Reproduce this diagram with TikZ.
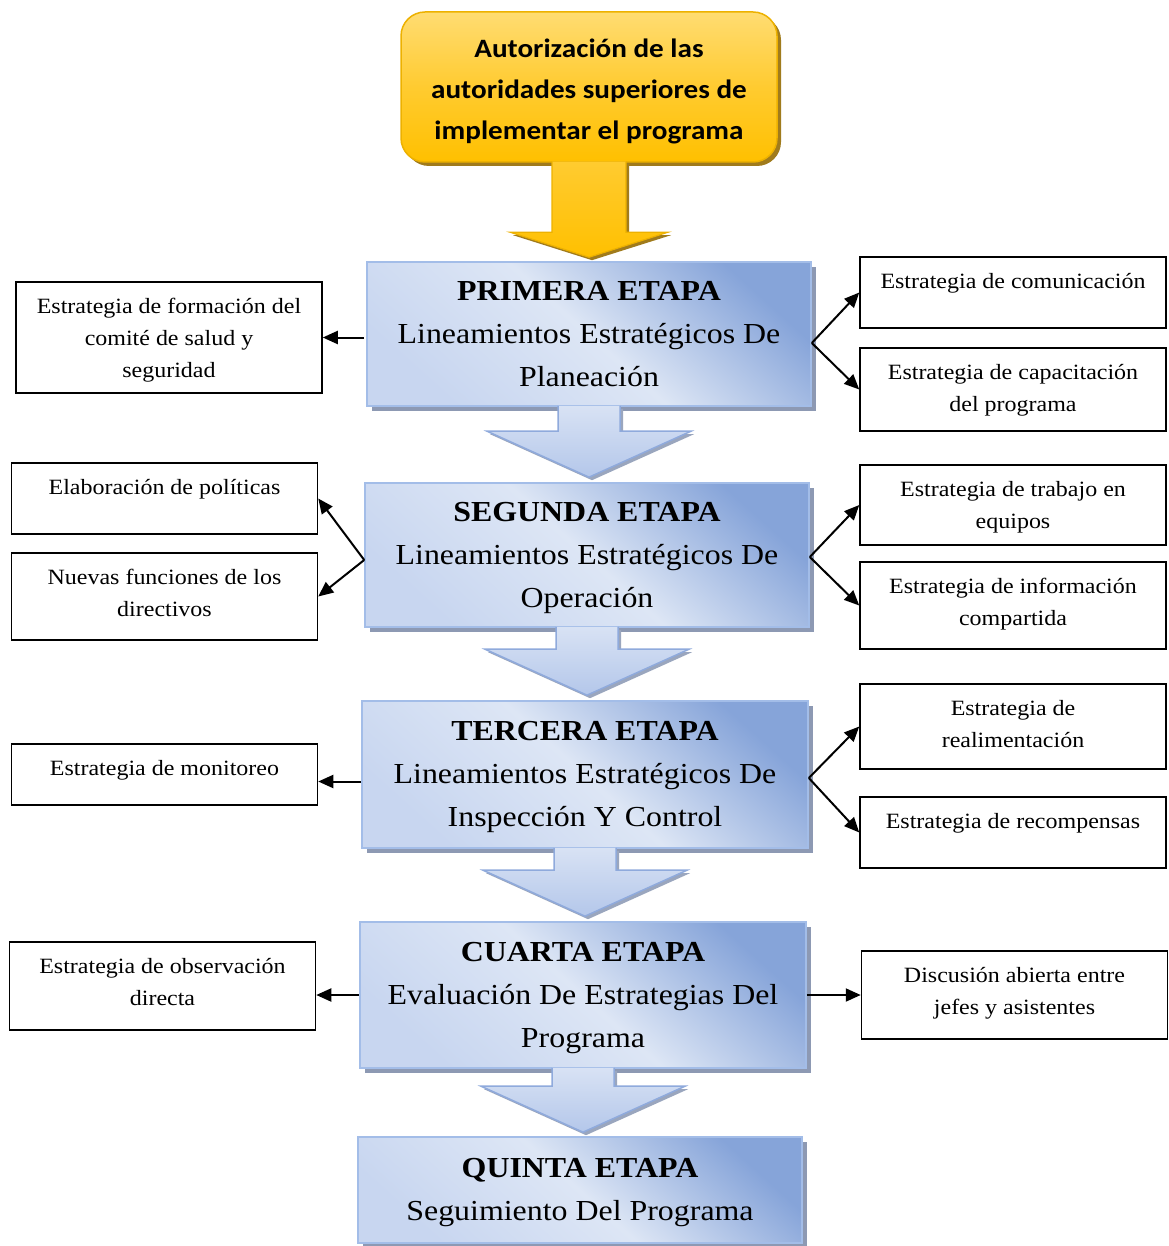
\documentclass[tikz,border=0pt]{standalone}
\usepackage{fontspec}
\setmainfont{Liberation Serif}[FakeStretch=1.1]
\newfontfamily\calibfont{Carlito}[FakeStretch=1.1]
\usetikzlibrary{arrows.meta,calc,shadows}

% palette
\definecolor{stageDark}{HTML}{86A4D9}
\definecolor{stageLight}{HTML}{DDE6F5}
\definecolor{stageMid}{HTML}{C8D6F0}
\definecolor{stageEdge}{HTML}{A3BDE8}
\definecolor{stageShadow}{HTML}{8D99B3}
\definecolor{arrowTop}{HTML}{D8E2F4}
\definecolor{arrowBottom}{HTML}{B4C7EA}
\definecolor{arrowEdge}{HTML}{8FAADC}
\definecolor{arrowShadow}{HTML}{9AA6BE}
\definecolor{topLight}{HTML}{FFDC72}
\definecolor{topMid}{HTML}{FFCB30}
\definecolor{topDeep}{HTML}{FFC000}
\definecolor{topEdge}{HTML}{EDB100}
\definecolor{topShadow}{HTML}{A07B1C}

% side box text: fixed box height, text hanging from the top
\newcommand\sidetext[2]{\parbox[t][#1][t]{300pt}{\centering\fontsize{21.8}{32}\selectfont\rule{0pt}{31pt}#2}}
% stage text: bold title, then the stage name
\newcommand\stagetext[2]{\rule{0pt}{25pt}\textbf{#1}\\#2\rule[-7pt]{0pt}{7pt}}

% block arrow between the bottom of one node and the top of the next
\newcommand\arrowshape[8]{%
  \path[#7] let \p1=(#1.south), \p2=(#2.north) in
    (\x1-#3,\y1+1pt) -- (\x1-#3,\y2+#6+#5) -- (\x1-#4,\y2+#6+#5) -- (\x1,\y2+#6)
    -- (\x1+#4,\y2+#6+#5) -- (\x1+#3,\y2+#6+#5) -- (\x1+#3,\y1+1pt) #8;}
\newcommand\flowarrow[7]{%
  \arrowshape{#1}{#2}{#3}{#4}{#5}{#6}{#7shadow, transform canvas={shift={(3pt,-3pt)}}}{-- cycle}
  \arrowshape{#1}{#2}{#3}{#4}{#5}{#6}{#7body}{-- cycle}
  \arrowshape{#1}{#2}{#3}{#4}{#5}{#6}{#7edge}{}}

\tikzset{
  topbox/.style={draw=topEdge, line width=1.5pt, rounded corners=24pt,
    top color=topLight, bottom color=topDeep, middle color=topMid,
    general shadow={fill=topShadow, shadow xshift=4pt, shadow yshift=-4pt},
    align=center, inner sep=0pt,
    font=\calibfont\bfseries\fontsize{26.5}{41}\selectfont},
  stagebox/.style={draw=stageEdge, line width=1.6pt,
    top color=stageDark, bottom color=stageMid, middle color=stageLight, shading angle=-42,
    general shadow={fill=stageShadow, shadow xshift=5pt, shadow yshift=-5pt},
    align=center, inner sep=0pt, minimum width=444pt,
    font=\fontsize{29}{43}\selectfont},
  sidebox/.style={draw, line width=1.5pt, fill=white, inner sep=0pt, minimum width=306pt},
  conn/.style={line width=2pt, -{Triangle[length=15pt,width=13pt]}},
  bshadow/.style={fill=arrowShadow},
  bbody/.style={top color=arrowTop, bottom color=arrowBottom},
  bedge/.style={draw=arrowEdge, line width=1.5pt},
  yshadow/.style={fill=topShadow},
  ybody/.style={top color=topMid, bottom color=topDeep},
  yedge/.style={draw=topEdge, line width=1.2pt},
}

\begin{document}
\begin{tikzpicture}[x=1pt, y=-1pt]
\fill[white] (0,0) rectangle (1168,1246);
\useasboundingbox (0,0) rectangle (1168,1246);

% authorisation box
\node[topbox, minimum width=376pt, minimum height=150pt] (auth) at (589,87)
  {\rule{0pt}{28pt}Autorización de las\\autoridades superiores de\\implementar el programa};

% the five stages
\node[stagebox, minimum height=144pt] (s1) at (589,334)
  {\stagetext{PRIMERA ETAPA}{Lineamientos Estratégicos De\\Planeación}};
\node[stagebox, minimum height=144pt] (s2) at (587,555)
  {\stagetext{SEGUNDA ETAPA}{Lineamientos Estratégicos De\\Operación}};
\node[stagebox, minimum width=446pt, minimum height=147pt] (s3) at (585,774.5)
  {\stagetext{TERCERA ETAPA}{Lineamientos Estratégicos De\\Inspección Y Control}};
\node[stagebox, minimum width=446pt, minimum height=146pt] (s4) at (583,995)
  {\stagetext{CUARTA ETAPA}{Evaluación De Estrategias Del\\Programa}};
\node[stagebox, minimum height=106pt] (s5) at (580,1190)
  {\stagetext{QUINTA ETAPA}{Seguimiento Del Programa}};

% block arrows
\flowarrow{auth}{s1}{37pt}{79pt}{25pt}{4pt}{y}
\flowarrow{s1}{s2}{31pt}{102pt}{46pt}{5pt}{b}
\flowarrow{s2}{s3}{31pt}{102pt}{46pt}{5pt}{b}
\flowarrow{s3}{s4}{31pt}{102pt}{46pt}{5pt}{b}
\flowarrow{s4}{s5}{31pt}{102pt}{46pt}{4pt}{b}

% strategies
\node[sidebox] (l1) at (169,337.5) {\sidetext{111pt}{Estrategia de formación del\\comité de salud y\\seguridad}};
\node[sidebox] (r1a) at (1013,292.5) {\sidetext{71pt}{Estrategia de comunicación}};
\node[sidebox] (r1b) at (1013,389.5) {\sidetext{83pt}{Estrategia de capacitación\\del programa}};
\node[sidebox] (l2a) at (164.5,498.5) {\sidetext{71pt}{Elaboración de políticas}};
\node[sidebox] (l2b) at (164.5,596.5) {\sidetext{87pt}{Nuevas funciones de los\\directivos}};
\node[sidebox] (r2a) at (1013,505) {\sidetext{80pt}{Estrategia de trabajo en\\equipos}};
\node[sidebox] (r2b) at (1013,605.5) {\sidetext{87pt}{Estrategia de información\\compartida}};
\node[sidebox] (l3) at (164.5,774.5) {\sidetext{61pt}{Estrategia de monitoreo}};
\node[sidebox] (r3a) at (1013,726.5) {\sidetext{85pt}{Estrategia de\\realimentación}};
\node[sidebox] (r3b) at (1013,832.5) {\sidetext{71pt}{Estrategia de recompensas}};
\node[sidebox] (l4) at (162.5,986) {\sidetext{88pt}{Estrategia de observación\\directa}};
\node[sidebox] (r4) at (1014.5,995) {\sidetext{88pt}{Discusión abierta entre\\jefes y asistentes}};

% connectors
\draw[conn, shorten <=2pt] (s1.west |- l1.east) -- (l1.east);
\coordinate (f1r) at ([yshift=-9pt]s1.east);
\draw[conn] (f1r) -- (r1a.west);
\draw[conn] (f1r) -- (r1b.west);

\coordinate (f2l) at ([yshift=-5pt]s2.west);
\draw[conn] (f2l) -- (l2a.east);
\draw[conn] (f2l) -- (l2b.east);
\coordinate (f2r) at ([yshift=-2pt]s2.east);
\draw[conn] (f2r) -- (r2a.west);
\draw[conn] (f2r) -- (r2b.west);

\draw[conn] ([yshift=-7pt]s3.west) -- ([yshift=-7pt]l3.east);
\coordinate (f3r) at ([yshift=-3.5pt]s3.east);
\draw[conn] (f3r) -- (r3a.west);
\draw[conn] (f3r) -- (r3b.west);

\draw[conn] (s4.west) -- (s4.west -| l4.east);
\draw[conn] (s4.east) -- (s4.east -| r4.west);
\end{tikzpicture}
\end{document}
